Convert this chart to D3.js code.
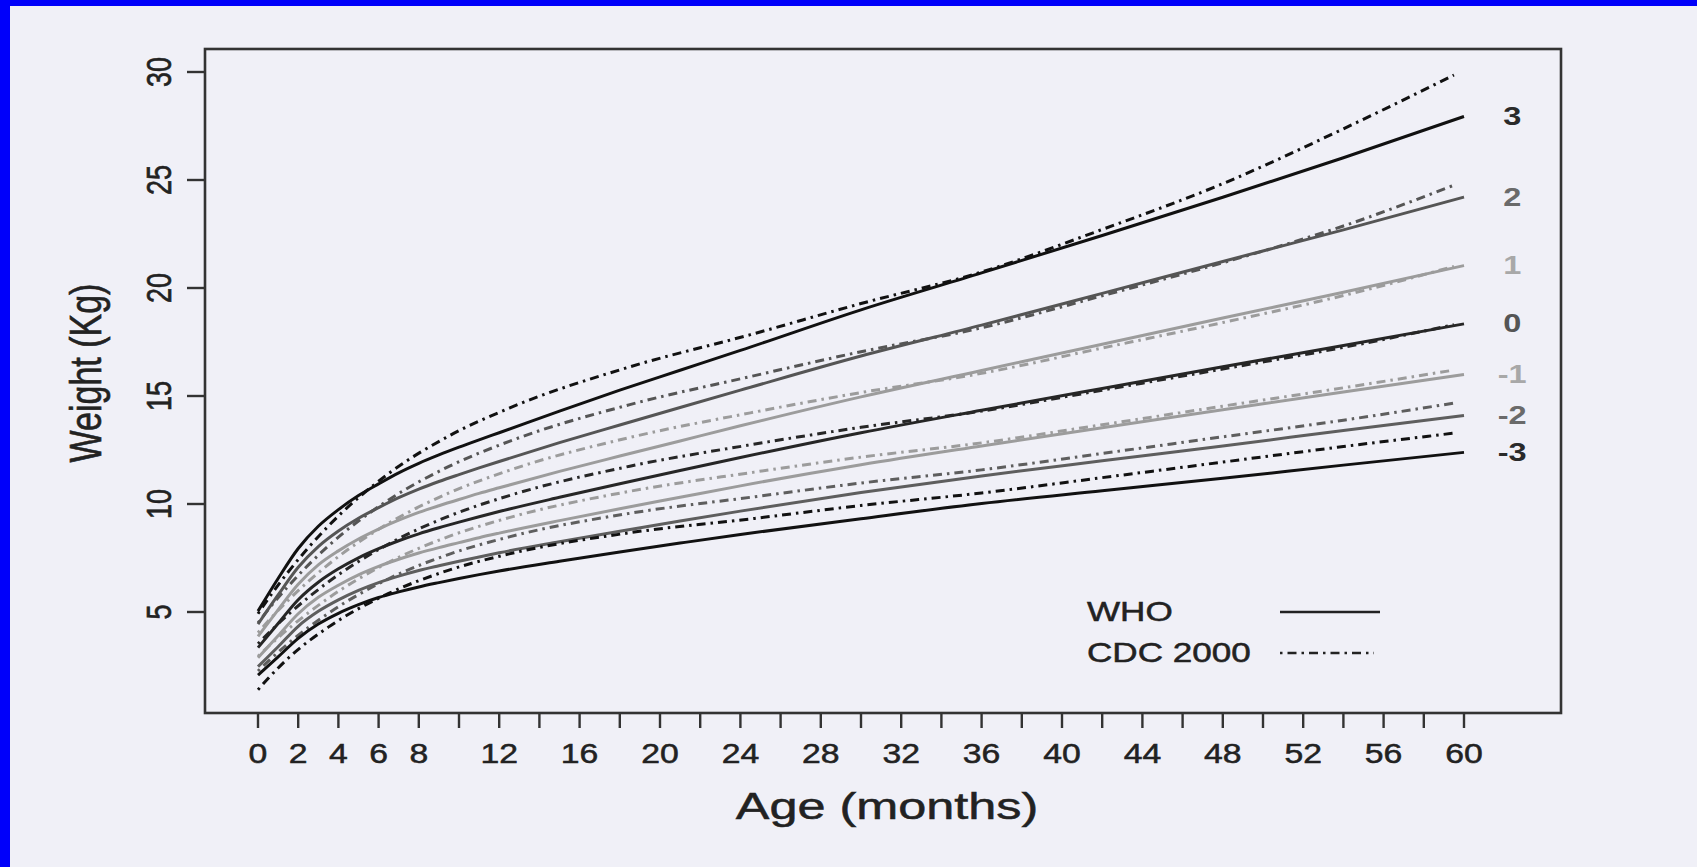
<!DOCTYPE html>
<html>
<head>
<meta charset="utf-8">
<script src="https://cdn.jsdelivr.net/npm/d3@7"></script>
<style>
  html, body { margin: 0; padding: 0; background: #0000fa; }
  svg { display: block; }
  text { font-family: "Liberation Sans", Arial, Helvetica, sans-serif; }
</style>
</head>
<body>
<svg id="chart" width="1697" height="867"></svg>
<script>
// Weight-for-age z-score curves, boys 0-60 months: WHO standard vs CDC 2000 reference.
const zLevels = [3, 2, 1, 0, -1, -2, -3];

const whoAges = [0,1,2,3,4,5,6,7,8,9,10,11,12,15,18,21,24,30,36,42,48,54,60];
const whoZp3 = [5.04,6.55,7.94,8.97,9.74,10.39,10.93,11.44,11.88,12.27,12.63,12.97,13.30,14.30,15.27,16.19,17.11,18.99,20.70,22.43,24.20,26.03,27.94];
const whoZp2 = [4.44,5.79,7.07,8.03,8.75,9.34,9.83,10.29,10.69,11.04,11.36,11.67,11.97,12.84,13.66,14.47,15.27,16.85,18.28,19.75,21.23,22.69,24.21];
const whoZp1 = [3.87,5.10,6.28,7.18,7.83,8.38,8.84,9.25,9.61,9.92,10.21,10.49,10.75,11.51,12.22,12.92,13.62,14.96,16.18,17.40,18.61,19.80,21.04];
const whoZ0  = [3.35,4.47,5.57,6.38,7.00,7.51,7.93,8.30,8.62,8.90,9.16,9.41,9.65,10.31,10.94,11.55,12.15,13.30,14.34,15.35,16.35,17.34,18.34];
const whoZm1 = [2.88,3.90,4.92,5.68,6.24,6.72,7.11,7.44,7.73,7.98,8.21,8.44,8.65,9.23,9.78,10.31,10.84,11.82,12.69,13.53,14.36,15.19,16.00];
const whoZm2 = [2.47,3.39,4.34,5.03,5.56,6.00,6.36,6.66,6.92,7.14,7.35,7.55,7.74,8.25,8.74,9.21,9.67,10.53,11.30,12.00,12.69,13.40,14.10];
const whoZm3 = [2.08,2.92,3.78,4.44,4.94,5.34,5.67,5.93,6.16,6.36,6.55,6.73,6.90,7.35,7.78,8.19,8.59,9.32,10.02,10.61,11.19,11.80,12.39];

const cdcAges = [0,0.5,1.5,3.5,6.5,9.5,12.5,18.5,24.5,30,36,42,48,54,59.5];
const cdcZp3 = [4.92,5.60,6.85,8.98,11.41,13.15,14.44,16.35,17.84,19.28,20.74,22.71,24.83,27.37,29.86];
const cdcZp2 = [4.50,5.10,6.19,8.06,10.19,11.74,12.90,14.60,15.90,17.05,18.16,19.64,21.17,22.87,24.76];
const cdcZp1 = [4.04,4.57,5.54,7.20,9.11,10.51,11.56,13.08,14.22,15.16,16.05,17.22,18.40,19.65,21.00];
const cdcZ0  = [3.53,4.00,4.88,6.39,8.15,9.44,10.39,11.75,12.74,13.55,14.30,15.27,16.25,17.25,18.30];
const cdcZm1 = [2.95,3.39,4.21,5.64,7.30,8.50,9.37,10.59,11.45,12.17,12.83,13.67,14.53,15.38,16.20];
const cdcZm2 = [2.27,2.71,3.54,4.94,6.54,7.67,8.48,9.57,10.31,10.97,11.58,12.34,13.11,13.88,14.67];
const cdcZm3 = [1.40,1.92,2.86,4.30,5.86,6.94,7.69,8.67,9.31,9.93,10.51,11.22,11.94,12.66,13.28];

const xTickValues = d3.range(0, 61, 2);
const xTickLabels = [0, 2, 4, 6, 8, 12, 16, 20, 24, 28, 32, 36, 40, 44, 48, 52, 56, 60];
const yTickValues = [5, 10, 15, 20, 25, 30];
const legendLabels = ["WHO", "CDC 2000"];

const whoSeries = [whoZp3, whoZp2, whoZp1, whoZ0, whoZm1, whoZm2, whoZm3];
const cdcSeries = [cdcZp3, cdcZp2, cdcZp1, cdcZ0, cdcZm1, cdcZm2, cdcZm3];

// styling per z level
const lineColor  = { "3": "#111", "2": "#555", "1": "#9c9c9c", "0": "#262626", "-1": "#9c9c9c", "-2": "#5e5e5e", "-3": "#111" };
const labelColor = { "3": "#2a2a2a", "2": "#6a6a6a", "1": "#a8a8a8", "0": "#555", "-1": "#a8a8a8", "-2": "#6a6a6a", "-3": "#2a2a2a" };
const drawOrder = [1, -1, 2, -2, 0, 3, -3];
const cdcDash = "2.5,5,9,5";

const W = 1697, H = 867;
const box = { left: 205, right: 1561, top: 49, bottom: 713 };

const svg = d3.select("#chart");

// page background with the blue frame on the top and left
svg.append("rect").attr("x", 10).attr("y", 6).attr("width", W - 10).attr("height", H - 6).attr("fill", "#f0f0f7");

const x = d3.scaleLinear().domain([0, 60]).range([258, 1464]);
const y = d3.scaleLinear().domain([5, 30]).range([612, 72]);

// curves
const line = d3.line().x(d => x(d[0])).y(d => y(d[1])).curve(d3.curveMonotoneX);
const curves = svg.append("g").attr("fill", "none").attr("stroke-linejoin", "round");

drawOrder.forEach(z => {
  const i = zLevels.indexOf(z);
  const who = whoAges.map((a, k) => [a, whoSeries[i][k]]);
  const cdc = cdcAges.map((a, k) => [a, cdcSeries[i][k]]);
  curves.append("path").attr("d", line(who))
    .attr("stroke", lineColor[z]).attr("stroke-width", 3);
  curves.append("path").attr("d", line(cdc))
    .attr("stroke", lineColor[z]).attr("stroke-width", 3)
    .attr("stroke-dasharray", cdcDash);
});

// plot frame
svg.append("rect")
  .attr("x", box.left).attr("y", box.top)
  .attr("width", box.right - box.left).attr("height", box.bottom - box.top)
  .attr("fill", "none").attr("stroke", "#333").attr("stroke-width", 2.6);

// helper for the slightly heavy, wide lettering
function label(sel, size, sx, color) {
  return sel.attr("font-size", size).attr("fill", color)
    .attr("stroke", color).attr("stroke-width", 0.5);
}

// x axis
const xAxis = svg.append("g");
xAxis.selectAll("line").data(xTickValues).join("line")
  .attr("x1", d => x(d)).attr("x2", d => x(d))
  .attr("y1", box.bottom).attr("y2", box.bottom + 15)
  .attr("stroke", "#333").attr("stroke-width", 2.4);
label(xAxis.selectAll("text").data(xTickLabels).join("text"), 27, 1.25, "#222")
  .attr("transform", d => `translate(${x(d)},${box.bottom + 50}) scale(1.25,1)`)
  .attr("text-anchor", "middle")
  .text(d => d);

// y axis
const yAxis = svg.append("g");
yAxis.selectAll("line").data(yTickValues).join("line")
  .attr("x1", box.left - 18).attr("x2", box.left)
  .attr("y1", d => y(d)).attr("y2", d => y(d))
  .attr("stroke", "#333").attr("stroke-width", 2.4);
label(yAxis.selectAll("text").data(yTickValues).join("text"), 27, 1.3, "#222")
  .attr("transform", d => `translate(171,${y(d)}) scale(1.3,1) rotate(-90)`)
  .attr("text-anchor", "middle")
  .text(d => d);

// axis titles
label(svg.append("text"), 36, 1.4, "#222")
  .attr("transform", `translate(${(x(0) + x(60)) / 2 + 26},819) scale(1.4,1)`)
  .attr("text-anchor", "middle")
  .text("Age (months)");
label(svg.append("text"), 34, 1.3, "#222")
  .attr("transform", `translate(101,${(box.top + box.bottom) / 2 - 8}) scale(1.3,1) rotate(-90)`)
  .attr("text-anchor", "middle")
  .text("Weight (Kg)");

// z-score labels at the right end of the WHO curves
svg.append("g").selectAll("text").data(zLevels).join("text")
  .attr("transform", (z, i) => `translate(${x(62.4)},${y(whoSeries[i][whoSeries[i].length - 1])}) scale(1.3,1)`)
  .attr("text-anchor", "middle").attr("dominant-baseline", "central")
  .attr("font-size", 25).attr("font-weight", "bold")
  .attr("fill", z => labelColor[z])
  .text(z => z);

// legend
const legend = svg.append("g");
const legendRows = [{ label: legendLabels[0], dash: null, yy: 612 }, { label: legendLabels[1], dash: cdcDash, yy: 653 }];
legendRows.forEach(r => {
  label(legend.append("text"), 27, 1.3, "#222")
    .attr("transform", `translate(1087,${r.yy}) scale(1.3,1)`)
    .attr("dominant-baseline", "central")
    .text(r.label);
  legend.append("line")
    .attr("x1", 1280).attr("x2", r.dash ? 1374 : 1380)
    .attr("y1", r.yy).attr("y2", r.yy)
    .attr("stroke", "#222").attr("stroke-width", 2.6)
    .attr("stroke-dasharray", r.dash);
});
</script>
</body>
</html>
